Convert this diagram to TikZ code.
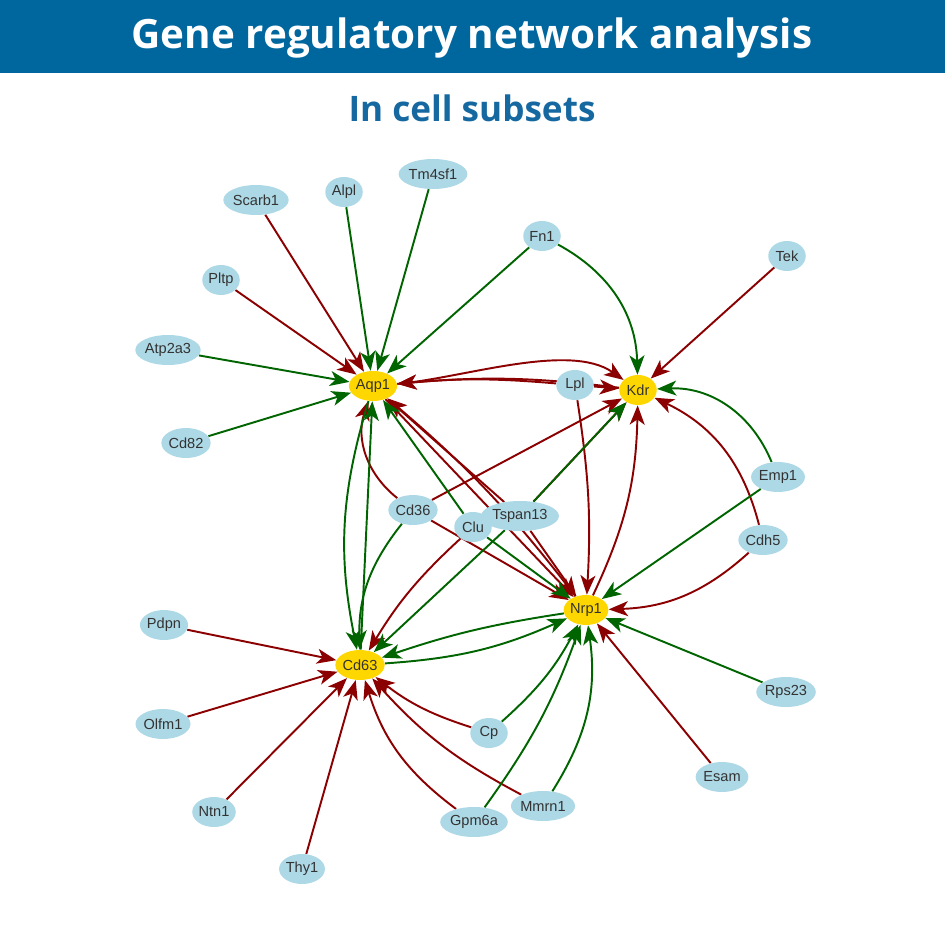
\documentclass[tikz,border=0pt]{standalone}
\usepackage{fontspec}
\setmainfont{Liberation Sans}
\newfontfamily\titlefont{Open Sans}
\usepackage{tikz}
\usetikzlibrary{arrows.meta}
\usetikzlibrary{shapes.geometric,positioning}
\usetikzlibrary{backgrounds}
\definecolor{barblue}{RGB}{0,103,158}
\definecolor{subblue}{RGB}{22,104,160}
\definecolor{genefill}{RGB}{173,216,230}
\definecolor{hubfill}{RGB}{255,215,0}
\definecolor{actred}{RGB}{139,0,0}
\definecolor{actgreen}{RGB}{0,100,0}
\definecolor{labelgray}{RGB}{51,51,51}
\tikzset{
    % 基因节点
    genenode/.style={
        ellipse,
        fill=genefill,
        text=labelgray,
        inner xsep=0pt,
        inner ysep=0pt,
        minimum height=0.6cm,
        minimum width=0.75cm,
        font=\fontsize{8.3}{9}\selectfont
    },
    hubnode/.style={
        genenode,
        fill=hubfill
    },
    % 红色箭头
    redarrow/.style={
        line width=1.1pt,
        actred,
        -{Stealth[length=11pt, width=8.5pt, inset=3pt]}
    },
    % 绿色箭头
    greenarrow/.style={
        line width=1.1pt,
        actgreen,
        -{Stealth[length=11pt, width=8.5pt, inset=3pt]}
    }
}

\begin{document}
\begin{tikzpicture}[x=0.02cm,y=-0.02cm]
	\useasboundingbox (0,0) rectangle (945,945);
	
	% 标题
	\fill[barblue] (0,0) rectangle (945,73);
	\node[text=white,font=\titlefont\bfseries\fontsize{23}{26}\selectfont] (title) at (472,38) {Gene regulatory network analysis};
	\node[text=subblue,font=\titlefont\bfseries\fontsize{20}{23}\selectfont] (subtitle) at (472,108) {In cell subsets};
	
	% 中心节点
	\node[hubnode] (aqp1) at (373,386) {Aqp1};
	\node[hubnode] (kdr) at (638,390) {Kdr};
	\node[hubnode] (nrp1) at (586,610) {Nrp1};
	\node[hubnode] (cd63) at (360,665) {Cd63};
	
	% 其他节点
	\node[genenode] (scarb1) at (256,200) {Scarb1};
	\node[genenode] (alpl) at (344,192) {Alpl};
	\node[genenode] (tm4sf1) at (433,174) {Tm4sf1};
	\node[genenode] (fn1) at (542,236) {Fn1};
	\node[genenode] (tek) at (787,256) {Tek};
	\node[genenode] (pltp) at (221,280) {Pltp};
	\node[genenode] (atp2a3) at (168,350) {Atp2a3};
	\node[genenode] (cd82) at (186,443) {Cd82};
	\node[genenode] (lpl) at (575,385) {Lpl};
	\node[genenode] (emp1) at (778,477) {Emp1};
	\node[genenode] (cd36) at (413,510) {Cd36};
	\node[genenode] (clu) at (473,527) {Clu};
	\node[genenode] (tspan13) at (520,516) {Tspan13};
	\node[genenode] (cdh5) at (763,540) {Cdh5};
	\node[genenode] (pdpn) at (164,625) {Pdpn};
	\node[genenode] (olfm1) at (163,724) {Olfm1};
	\node[genenode] (ntn1) at (214,812) {Ntn1};
	\node[genenode] (thy1) at (302,869) {Thy1};
	\node[genenode] (cp) at (489,733) {Cp};
	\node[genenode] (gpm6a) at (474,822) {Gpm6a};
	\node[genenode] (mmrn1) at (543,806) {Mmrn1};
	\node[genenode] (esam) at (722,777) {Esam};
	\node[genenode] (rps23) at (786,692) {Rps23};
	
	\begin{pgfonlayer}{background}
	% 红线
	\draw[redarrow] (scarb1) -- (aqp1);
	\draw[redarrow] (pltp) -- (aqp1);
	\draw[redarrow] (tspan13) -- (aqp1);
	\draw[redarrow] (cd36) to[bend left=35] (aqp1);
	\draw[redarrow] (lpl) to[bend right=5] (aqp1);
	\draw[redarrow] (kdr) to[bend right=6] (aqp1);
	\draw[redarrow] (nrp1) to[bend right=6] (aqp1);
	\draw[redarrow] (aqp1) -- (nrp1);
	\draw[redarrow] (aqp1) to[out=5,in=145,looseness=0.75] (kdr);
	\draw[redarrow] (lpl) -- (kdr);
	\draw[redarrow] (tek) -- (kdr);
	\draw[redarrow] (cd36) -- (kdr);
	\draw[redarrow] (tspan13) -- (kdr);
	\draw[redarrow] (nrp1) to[bend right=12] (kdr);
	\draw[redarrow] (cdh5) to[bend right=25] (kdr);
	\draw[redarrow] (lpl) to[bend left=6] (nrp1);
	\draw[redarrow] (cd36) -- (nrp1);
	\draw[redarrow] (tspan13) -- (nrp1);
	\draw[redarrow] (cdh5) to[bend left=20] (nrp1);
	\draw[redarrow] (esam) -- (nrp1);
	\draw[redarrow] (clu) to[bend right=8] (cd63);
	\draw[redarrow] (pdpn) -- (cd63);
	\draw[redarrow] (olfm1) -- (cd63);
	\draw[redarrow] (ntn1) -- (cd63);
	\draw[redarrow] (thy1) -- (cd63);
	\draw[redarrow] (cp) to[bend left=10] (cd63);
	\draw[redarrow] (mmrn1) to[bend left=10] (cd63);
	\draw[redarrow] (gpm6a) to[bend left=18] (cd63);
	
	% 绿线
	\draw[greenarrow] (alpl) -- (aqp1);
	\draw[greenarrow] (tm4sf1) -- (aqp1);
	\draw[greenarrow] (fn1) -- (aqp1);
	\draw[greenarrow] (atp2a3) -- (aqp1);
	\draw[greenarrow] (cd82) -- (aqp1);
	\draw[greenarrow] (clu) -- (aqp1);
	\draw[greenarrow] (cd63) -- (aqp1);
	\draw[greenarrow] (aqp1) to[bend right=14] (cd63);
	\draw[greenarrow] (cd36) to[bend right=20] (cd63);
	\draw[greenarrow] (fn1) to[bend left=30] (kdr);
	\draw[greenarrow] (emp1) to[bend right=35] (kdr);
	\draw[greenarrow] (tspan13) -- (kdr);
	\draw[greenarrow] (tspan13) -- (cd63);
	\draw[greenarrow] (clu) -- (nrp1);
	\draw[greenarrow] (emp1) -- (nrp1);
	\draw[greenarrow] (rps23) -- (nrp1);
	\draw[greenarrow] (cp) to[bend right=10] (nrp1);
	\draw[greenarrow] (gpm6a) to[bend right=8] (nrp1);
	\draw[greenarrow] (mmrn1) to[bend right=20] (nrp1);
	\draw[greenarrow] (cd63) to[bend right=10] (nrp1);
	\draw[greenarrow] (nrp1) to[bend right=5] (cd63);
	\end{pgfonlayer}
\end{tikzpicture}
\end{document}
